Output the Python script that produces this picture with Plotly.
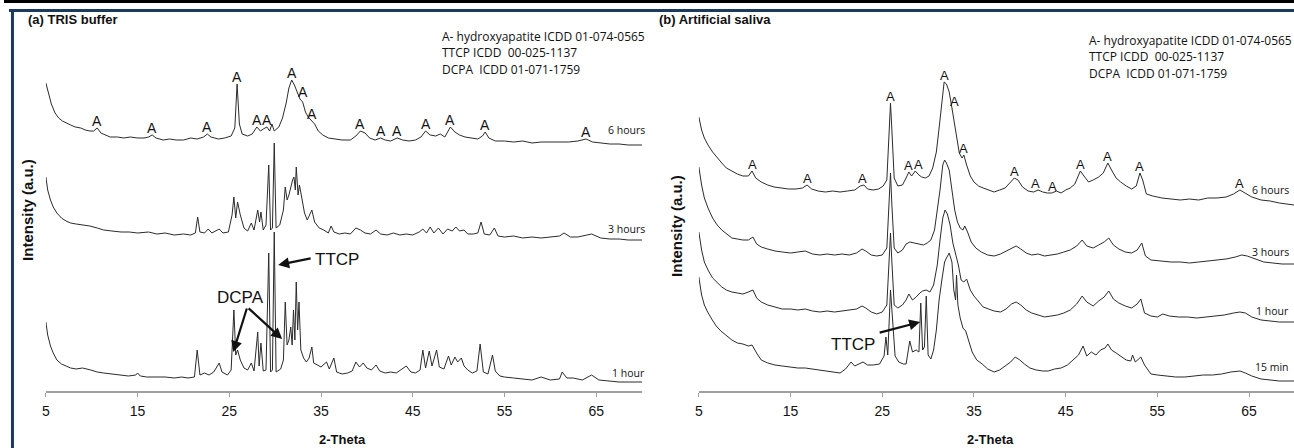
import numpy as np
import plotly.graph_objects as go

# ---------------- data (2-theta, intensity a.u.) ----------------
tris_6h = [(5.0,308),(5.3,296),(5.6,287),(6.0,278),(6.4,273),(6.8,270),(7.2,268),(7.7,266),(8.2,264),(8.8,263),
 (9.3,261),(9.8,260),(10.2,260),(10.6,263),(11.0,258),(11.5,256),(12.0,254),(12.8,254),(13.5,253),(14.2,254),
 (15.0,253),(15.7,253),(16.2,254),(16.6,256),(17.0,253),(17.8,251),(18.5,252),(19.2,251),(20.0,251),(20.8,253),
 (21.5,252),(22.2,254),(22.6,257),(23.0,254),(23.8,252),(24.5,253),(25.2,255),(25.6,263),(25.85,307),(26.1,267),
 (26.4,257),(27.0,255),(27.5,257),(28.0,264),(28.4,260),(28.7,262),(29.1,264),(29.4,260),(29.65,267),(29.9,260),
 (30.4,264),(30.8,273),(31.2,288),(31.5,303),(31.8,311),(32.1,306),(32.4,298),(32.7,292),(33.0,289),(33.3,279),
 (33.6,274),(34.0,270),(34.3,267),(34.7,260),(35.2,256),(35.8,253),(36.5,252),(37.3,251),(38.2,251),(38.8,255),
 (39.3,260),(39.8,258),(40.3,253),(40.9,251),(41.5,253),(42.0,251),(42.6,250),(43.3,253),(43.9,251),(44.6,250),
 (45.3,251),(45.9,254),(46.4,260),(46.9,256),(47.5,255),(48.0,257),(48.5,254),(49.1,264),(49.6,259),(50.1,256),
 (50.7,254),(51.4,253),(52.1,252),(52.6,255),(52.9,259),(53.3,253),(54.0,250),(55.0,250),(56.0,249),(57.0,250),
 (58.0,248),(59.0,249),(60.0,249),(61.0,249),(62.0,249),(63.0,250),(63.9,252),(64.6,249),(65.5,248),(66.5,247),
 (67.5,247),(68.5,246),(70.0,246)]

tris_3h = [(5.0,214),(5.2,201),(5.5,191),(5.8,184),(6.2,178),(6.7,173),(7.2,170),(7.7,168),(8.3,167),(9.0,166),
 (9.8,165),(10.6,163),(11.3,161),(12.2,160),(13.2,159),(14.1,159),(15.0,158),(16.2,159),(17.1,157),(18.0,158),
 (19.0,156),(20.0,157),(20.8,156),(21.3,158),(21.55,174),(21.8,159),(22.3,158),(22.7,162),(23.1,158),(23.9,162),
 (24.3,158),(24.9,159),(25.3,176),(25.5,194),(25.7,173),(25.9,189),(26.2,176),(26.6,163),(27.0,160),(27.4,168),
 (27.7,161),(28.1,181),(28.3,169),(28.45,179),(28.7,161),(29.0,166),(29.3,226),(29.5,161),(29.7,163),(29.9,248),
 (30.1,163),(30.5,166),(30.9,181),(31.1,204),(31.3,191),(31.5,196),(31.7,204),(31.9,211),(32.05,214),(32.2,201),
 (32.3,224),(32.5,196),(32.65,206),(32.9,191),(33.2,178),(33.5,171),(33.8,178),(34.0,181),(34.3,169),(34.8,163),
 (35.3,161),(35.8,158),(36.1,165),(36.4,159),(37.0,157),(37.6,158),(38.2,157),(38.8,163),(39.3,161),(39.8,158),
 (40.4,157),(41.0,161),(41.5,157),(42.2,156),(42.9,158),(43.6,156),(44.3,157),(45.0,156),(45.7,159),(46.1,162),
 (46.5,158),(46.9,164),(47.3,158),(47.8,163),(48.3,157),(48.8,162),(49.3,160),(49.7,164),(50.1,160),(50.6,161),
 (51.0,157),(51.6,157),(52.1,158),(52.45,169),(52.8,157),(53.4,156),(53.9,163),(54.3,155),(55.0,154),(56.0,155),
 (57.0,153),(58.0,154),(59.0,153),(60.0,154),(61.0,155),(61.5,158),(62.2,154),(63.0,154),(64.0,156),(64.5,157),
 (65.5,153),(66.5,152),(67.5,152),(68.5,151),(70.0,151)]

tris_1h = [(5.0,69),(5.2,56),(5.5,45),(5.8,38),(6.2,31),(6.7,27),(7.2,25),(7.7,23),(8.3,22),(9.0,23),(9.9,21),
 (10.6,19),(11.3,18),(12.2,17),(13.2,16),(14.0,15),(14.8,16),(15.0,18),(15.3,15),(16.0,14),(17.0,14),(18.0,14),
 (19.0,13),(19.8,14),(20.5,13),(21.2,14),(21.5,41),(21.8,16),(22.3,18),(22.8,16),(23.3,19),(23.9,28),(24.2,19),
 (24.8,16),(25.2,21),(25.5,81),(25.7,36),(25.9,41),(26.2,31),(26.6,23),(27.0,21),(27.4,28),(27.7,20),(28.1,59),
 (28.25,25),(28.45,48),(28.7,20),(29.0,21),(29.3,138),(29.5,19),(29.7,21),(29.9,159),(30.1,19),(30.6,22),(30.9,31),
 (31.1,89),(31.3,46),(31.5,51),(31.7,64),(31.85,46),(32.0,81),(32.15,51),(32.3,109),(32.45,61),(32.6,89),(32.8,41),
 (33.1,33),(33.4,29),(33.7,33),(34.0,44),(34.2,28),(34.6,26),(35.0,24),(35.6,29),(35.9,22),(36.4,33),(36.7,19),
 (37.3,17),(37.9,18),(38.4,20),(38.8,29),(39.2,24),(39.6,28),(40.0,23),(40.5,21),(41.0,26),(41.4,20),(42.0,18),
 (42.6,19),(43.2,18),(43.8,22),(44.3,25),(44.8,19),(45.3,18),(45.8,21),(46.1,41),(46.4,23),(46.8,40),(47.1,25),
 (47.6,41),(47.9,24),(48.4,22),(48.9,35),(49.2,26),(49.6,34),(49.9,29),(50.3,33),(50.6,25),(51.0,21),(51.5,18),
 (52.0,20),(52.35,47),(52.7,19),(53.2,17),(53.7,36),(54.0,20),(54.5,15),(55.0,14),(56.0,13),(57.0,12),(58.0,11),
 (59.0,14),(60.0,11),(61.0,12),(61.3,19),(61.8,13),(62.5,13),(63.5,11),(64.5,16),(65.3,11),(66.5,10),(67.5,9),
 (68.5,9),(70.0,9)]

saliva_6h = [(5.0,274),(5.3,261),(5.6,253),(6.0,246),(6.5,239),(7.0,233),(7.5,228),(8.0,223),(8.6,220),(9.2,217),
 (9.8,215),(10.4,215),(10.8,220),(11.2,213),(11.8,209),(12.5,206),(13.2,204),(14.0,203),(14.8,202),(15.6,202),
 (16.3,203),(16.8,206),(17.3,202),(18.0,200),(18.8,199),(19.6,200),(20.4,199),(21.2,200),(22.0,201),(22.6,205),
 (23.0,206),(23.4,202),(24.0,201),(24.6,202),(25.1,205),(25.5,211),(25.75,261),(25.9,288),(26.05,261),(26.3,213),
 (26.7,205),(27.2,206),(27.6,213),(27.9,219),(28.2,215),(28.6,220),(29.0,216),(29.3,214),(29.7,213),(30.1,215),
 (30.5,223),(30.9,239),(31.2,263),(31.5,291),(31.75,309),(32.0,307),(32.3,299),(32.6,283),(32.85,269),(33.1,251),
 (33.4,238),(33.7,233),(33.9,236),(34.2,226),(34.6,215),(35.0,209),(35.5,205),(36.0,203),(36.6,201),(37.2,199),
 (37.8,201),(38.4,203),(38.9,208),(39.4,213),(39.8,211),(40.3,204),(40.9,200),(41.5,199),(42.0,201),(42.5,199),
 (43.0,198),(43.5,198),(44.0,200),(44.5,198),(45.0,201),(45.5,203),(46.0,207),(46.6,220),(47.0,215),(47.5,209),
 (48.0,211),(48.6,214),(49.1,218),(49.6,228),(50.0,221),(50.5,213),(51.0,209),(51.6,205),(52.2,202),(52.7,205),
 (53.1,218),(53.4,211),(53.8,197),(54.5,195),(55.5,193),(56.5,192),(57.5,191),(58.5,192),(59.5,191),(60.5,193),
 (61.5,193),(62.5,194),(63.3,197),(64.0,201),(64.6,198),(65.3,194),(66.3,191),(67.3,190),(68.3,188),(69.9,186)]

saliva_3h = [(5.0,224),(5.3,206),(5.6,193),(6.0,183),(6.5,173),(7.0,166),(7.5,161),(8.0,157),(8.6,153),(9.2,152),
 (9.8,151),(10.4,151),(10.9,154),(11.3,147),(11.8,144),(12.5,142),(13.3,140),(14.1,139),(15.0,138),(15.8,139),
 (16.6,140),(17.4,137),(18.2,136),(19.0,137),(19.8,136),(20.6,137),(21.4,136),(22.2,138),(22.8,142),(23.2,140),
 (23.8,136),(24.4,135),(25.0,136),(25.5,143),(25.75,191),(25.9,218),(26.05,186),(26.3,143),(26.7,138),(27.2,141),
 (27.6,147),(28.0,149),(28.5,148),(29.0,147),(29.5,146),(29.9,148),(30.3,151),(30.7,161),(31.0,179),(31.3,201),
 (31.6,226),(31.8,231),(32.0,228),(32.3,221),(32.6,201),(32.9,181),(33.2,169),(33.5,163),(33.8,161),(34.0,165),
 (34.3,159),(34.7,149),(35.2,143),(35.8,139),(36.5,136),(37.2,135),(37.9,137),(38.5,140),(39.1,143),(39.6,145),
 (40.1,142),(40.7,138),(41.3,136),(42.0,137),(42.7,135),(43.4,136),(44.1,137),(44.8,139),(45.5,141),(46.2,145),
 (46.8,151),(47.3,145),(48.0,143),(48.6,146),(49.2,149),(49.7,153),(50.2,146),(50.8,142),(51.5,139),(52.2,138),
 (52.8,141),(53.3,148),(53.7,135),(54.3,131),(55.5,130),(56.5,129),(57.5,129),(58.5,128),(59.5,129),(60.5,130),
 (61.5,131),(62.5,132),(63.5,134),(64.2,136),(64.8,135),(65.6,132),(66.6,129),(67.6,128),(68.6,127),(69.9,127)]

saliva_1h = [(5.0,159),(5.3,141),(5.6,129),(6.0,121),(6.5,113),(7.0,108),(7.5,104),(8.0,101),(8.6,99),(9.2,98),
 (9.8,97),(10.4,99),(10.9,101),(11.3,93),(11.8,89),(12.5,86),(13.3,84),(14.1,82),(15.0,82),(15.8,81),(16.6,82),
 (17.4,80),(18.2,79),(19.0,80),(19.8,79),(20.6,80),(21.4,81),(22.2,82),(22.8,85),(23.2,83),(23.8,79),(24.4,77),
 (25.0,79),(25.5,86),(25.75,131),(25.9,158),(26.05,129),(26.3,86),(26.7,83),(27.2,86),(27.6,91),(27.9,97),
 (28.3,91),(28.7,94),(29.1,98),(29.4,100),(29.8,101),(30.2,99),(30.6,106),(31.0,126),(31.3,151),(31.6,173),
 (31.85,181),(32.1,177),(32.4,166),(32.7,148),(33.0,137),(33.3,126),(33.6,111),(33.9,109),(34.2,112),(34.6,101),
 (35.0,95),(35.5,89),(36.0,84),(36.6,82),(37.2,80),(37.9,79),(38.5,82),(39.1,87),(39.6,89),(40.1,86),(40.7,81),
 (41.3,78),(42.0,76),(42.7,74),(43.4,75),(44.1,76),(44.8,78),(45.5,81),(46.2,87),(46.8,95),(47.3,89),(48.0,85),
 (48.6,90),(49.2,94),(49.7,100),(50.2,92),(50.8,88),(51.5,85),(52.2,83),(52.8,87),(53.2,92),(53.6,78),(54.3,75),
 (55.0,74),(55.6,77),(56.3,75),(57.3,74),(58.3,74),(59.3,73),(60.3,74),(61.3,75),(62.3,76),(63.3,78),(64.0,79),
 (64.6,78),(65.3,74),(66.3,71),(67.3,70),(68.3,69),(69.9,69)]

saliva_15m = [(5.0,114),(5.3,96),(5.6,86),(5.9,80),(6.4,72),(6.9,65),(7.4,60),(8.0,55),(8.6,51),(9.2,48),(9.8,47),
 (10.4,45),(10.8,46),(11.3,38),(11.8,31),(12.5,28),(13.3,26),(14.1,25),(15.0,24),(15.8,23),(16.6,23),(17.4,22),
 (18.2,21),(19.0,20),(19.8,19),(20.4,18),(21.0,22),(21.6,29),(22.0,25),(22.5,27),(22.9,29),(23.4,26),(24.0,26),
 (24.7,27),(25.2,35),(25.4,54),(25.6,36),(25.9,101),(26.1,71),(26.4,35),(26.8,29),(27.3,27),(27.6,27),(27.8,41),
 (28.0,50),(28.3,39),(28.7,41),(29.0,39),(29.2,88),(29.4,41),(29.6,44),(29.8,95),(30.0,36),(30.3,32),(30.6,41),
 (30.9,61),(31.2,91),(31.5,111),(31.8,129),(32.0,133),(32.3,138),(32.6,129),(32.8,101),(33.0,91),(33.1,116),
 (33.25,86),(33.5,73),(33.8,63),(34.1,60),(34.4,51),(34.8,39),(35.3,31),(35.9,27),(36.5,22),(37.2,19),(37.8,21),
 (38.4,25),(39.0,29),(39.5,34),(40.0,31),(40.5,27),(41.1,23),(41.8,21),(42.5,20),(43.1,20),(43.8,22),(44.5,23),
 (45.2,26),(45.8,31),(46.4,36),(46.9,45),(47.3,35),(47.8,39),(48.3,36),(48.8,41),(49.3,43),(49.6,47),(50.0,41),
 (50.5,38),(51.0,35),(51.6,31),(52.1,30),(52.3,36),(52.6,29),(53.2,34),(53.6,26),(54.3,17),(55.0,16),(56.0,15),
 (57.0,14),(58.0,14),(59.0,15),(60.0,16),(61.0,16),(62.0,17),(63.0,19),(64.0,20),(64.6,18),(65.3,15),(66.3,12),
 (67.3,11),(68.3,10),(69.9,10)]

# hydroxyapatite ("A") reflections marked on the top pattern of each panel
hap_peaks_tris = [10.6, 16.6, 22.6, 25.85, 28.0, 29.1, 31.8, 33.0, 34.0, 39.3, 41.5, 43.3, 46.4, 49.1, 52.9, 63.9]
hap_peaks_saliva = [10.8, 16.8, 22.9, 25.9, 27.9, 28.9, 31.75, 32.9, 33.9, 39.4, 41.7, 43.6, 46.6, 49.6, 53.1, 64.0]

x_ticks = [5, 15, 25, 35, 45, 55, 65]
legend_lines = ["A- hydroxyapatite ICDD 01-074-0565", "TTCP ICDD  00-025-1137", "DCPA  ICDD 01-071-1759"]

# ---------------- figure ----------------
W, H = 1294, 448
def px(x): return x / W
def py(y): return 1 - y / H

LINE = "#2b2b2b"
fig = go.Figure()

def add_pattern(data, xa, ya):
    t = [p[0] for p in data]
    i = [p[1] for p in data]
    fig.add_trace(go.Scatter(x=t, y=i, mode="lines", xaxis=xa, yaxis=ya,
                             line=dict(color=LINE, width=1), hoverinfo="skip"))

for d in (tris_6h, tris_3h, tris_1h):
    add_pattern(d, "x", "y")
for d in (saliva_6h, saliva_3h, saliva_1h, saliva_15m):
    add_pattern(d, "x2", "y2")

axis_common = dict(tickvals=x_ticks, showline=True, linecolor="#a0a0a0", linewidth=1.5,
                   ticks="outside", ticklen=4, tickcolor="#a0a0a0", tickwidth=1,
                   tickfont=dict(family="Liberation Sans, Arial", size=14, color="#111"),
                   showgrid=False, zeroline=False, ticklabelstandoff=2)
ydom = [(H - 391) / H, 1]
fig.update_layout(
    width=W, height=H, margin=dict(l=0, r=0, t=0, b=0),
    paper_bgcolor="white", plot_bgcolor="white", showlegend=False,
    xaxis=dict(axis_common, range=[5, 70], domain=[px(42), px(640)], anchor="y"),
    yaxis=dict(domain=ydom, range=[0, 391], visible=False),
    xaxis2=dict(axis_common, range=[5, 69.9], domain=[px(697), 1.0], anchor="y2"),
    yaxis2=dict(domain=ydom, range=[0, 391], visible=False),
)

ann = []
def label_peaks(data, peaks, xr, yr, size):
    t = np.array([p[0] for p in data]); i = np.array([p[1] for p in data])
    for th in peaks:
        m = np.abs(t - th) <= 0.3
        ann.append(dict(x=th, y=i[m].max(), xref=xr, yref=yr, text="A", showarrow=False,
                        yanchor="bottom", yshift=-3,
                        font=dict(family="Liberation Sans, Arial", size=size, color="#111")))

label_peaks(tris_6h, hap_peaks_tris, "x", "y", 14)
label_peaks(saliva_6h, hap_peaks_saliva, "x2", "y2", 13)

def text(x, y, s, size=13, bold=False, family="Liberation Sans, Arial", xanchor="left", angle=0):
    ann.append(dict(x=px(x), y=py(y), xref="paper", yref="paper", text=f"<b>{s}</b>" if bold else s,
                    showarrow=False, xanchor=xanchor, yanchor="middle", textangle=angle,
                    font=dict(family=family, size=size, color="#111")))

text(22, 20, "(a) TRIS buffer", 13, True)
text(655, 20, "(b) Artificial saliva", 13, True)
for k, s in enumerate(legend_lines):
    text(437, 36 + 16.5 * k, s, 12, family="Open Sans")
    text(1086, 40 + 17 * k, s, 12, family="Open Sans")

text(23, 210, "Intensity (a.u.)", 15, True, xanchor="center", angle=-90)
text(674, 226, "Intensity (a.u.)", 15, True, xanchor="center", angle=-90)
text(340, 439, "2-Theta", 13, True, xanchor="center")
text(990, 439, "2-Theta", 13, True, xanchor="center")

for (x, y, s) in [(645, 130, "6 hours"), (645, 229, "3 hours"), (645, 373, "1 hour"),
                  (1291, 190, "6 hours"), (1291, 252, "3 hours"), (1291, 311, "1 hour"), (1291, 367, "15 min")]:
    text(x, y, s, 10.5, family="Open Sans", xanchor="right")

text(334, 259, "TTCP", 17, xanchor="center")
text(237, 297, "DCPA", 17, xanchor="center")
text(852, 344, "TTCP", 17, xanchor="center")

def arrow(tx, ty, hx, hy):
    ann.append(dict(x=px(hx), y=py(hy), xref="paper", yref="paper", ax=tx - hx, ay=ty - hy,
                    text="", showarrow=True, arrowhead=2, arrowsize=1, arrowwidth=2.2, arrowcolor="#111"))

arrow(309, 258, 275, 265)
arrow(244, 307, 230, 352)
arrow(244, 307, 279, 339)
arrow(877, 333, 919, 322)

fig.update_layout(annotations=ann)

navy = "#1b3a5c"
fig.update_layout(shapes=[
    dict(type="rect", xref="paper", yref="paper", x0=0, x1=1, y0=py(3), y1=1, fillcolor="black", line_width=0),
    dict(type="line", xref="paper", yref="paper", x0=px(5), x1=1, y0=py(10.5), y1=py(10.5),
         line=dict(color=navy, width=3)),
    dict(type="line", xref="paper", yref="paper", x0=px(8.5), x1=px(8.5), y0=0, y1=py(9),
         line=dict(color=navy, width=3)),
])

fig.write_html("out.html", config={"displayModeBar": False},
               post_script="document.body.style.margin='0';document.body.style.overflow='hidden';")
